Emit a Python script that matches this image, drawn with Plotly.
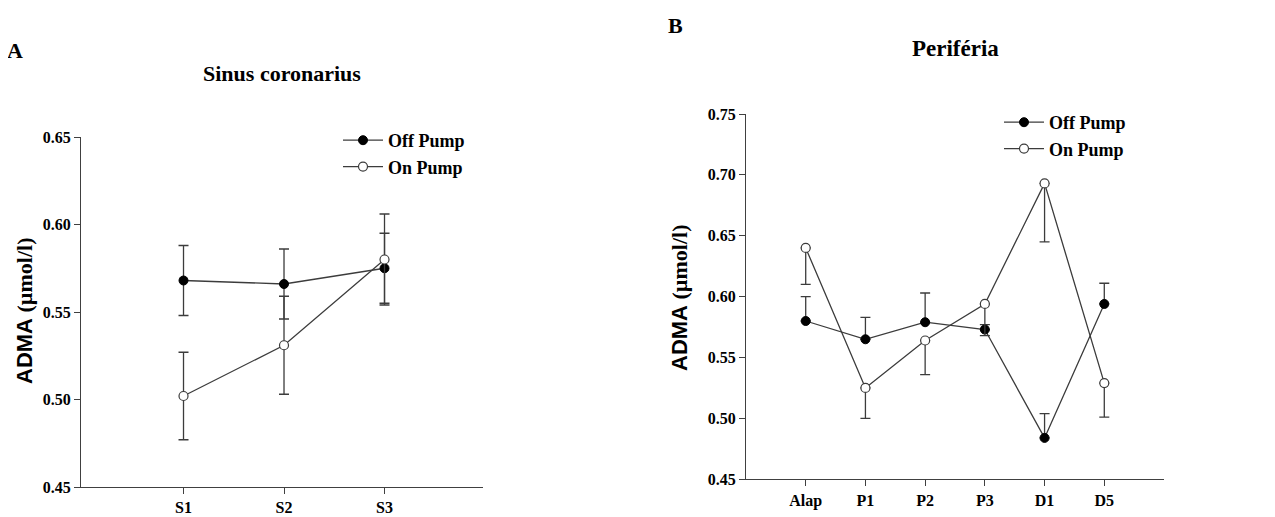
import plotly.graph_objects as go

# ---- data ----
sinus_cats = ["S1", "S2", "S3"]
sinus_off = [0.568, 0.566, 0.575]
sinus_off_err = [0.020, 0.020, 0.020]
sinus_on = [0.502, 0.531, 0.580]
sinus_on_err = [0.025, 0.028, 0.026]

peri_cats = ["Alap", "P1", "P2", "P3", "D1", "D5"]
peri_off = [0.580, 0.565, 0.579, 0.573, 0.484, 0.594]
peri_off_err_up = [0.020, 0.018, 0.024, 0.004, 0.020, 0.017]
peri_on = [0.640, 0.525, 0.564, 0.594, 0.693, 0.529]
peri_on_err_down = [0.030, 0.025, 0.028, 0.026, 0.048, 0.028]

left_ticks = [0.45, 0.50, 0.55, 0.60, 0.65]
right_ticks = [0.45, 0.50, 0.55, 0.60, 0.65, 0.70, 0.75]

# page body has an 8px margin, so the figure is sized to fit the window exactly
OFF = 8
W, H = 1275 - OFF, 517 - OFF
SERIF = "Liberation Serif"
LINE = "#3c3c3c"
AX = "#404040"

def px(x):
    return (x - OFF) / W

def py(y):
    return 1 - (y - OFF) / H

fig = go.Figure()

mk_off = dict(symbol="circle", size=9, color="black", line=dict(color="black", width=1))
mk_on = dict(symbol="circle", size=9, color="white", line=dict(color=LINE, width=1.2))
eb = dict(color=LINE, thickness=1.3, width=5)

fig.add_trace(go.Scatter(x=sinus_cats, y=sinus_off, mode="lines+markers", name="Off Pump",
                         line=dict(color=LINE, width=1.3), marker=mk_off,
                         error_y=dict(type="data", array=sinus_off_err, **eb),
                         xaxis="x", yaxis="y", legend="legend"))
fig.add_trace(go.Scatter(x=sinus_cats, y=sinus_on, mode="lines+markers", name="On Pump",
                         line=dict(color=LINE, width=1.3), marker=mk_on,
                         error_y=dict(type="data", array=sinus_on_err, **eb),
                         xaxis="x", yaxis="y", legend="legend"))

fig.add_trace(go.Scatter(x=peri_cats, y=peri_off, mode="lines+markers", name="Off Pump",
                         line=dict(color=LINE, width=1.3), marker=mk_off,
                         error_y=dict(type="data", symmetric=False, array=peri_off_err_up,
                                      arrayminus=[0] * len(peri_off), **eb),
                         xaxis="x2", yaxis="y2", legend="legend2"))
fig.add_trace(go.Scatter(x=peri_cats, y=peri_on, mode="lines+markers", name="On Pump",
                         line=dict(color=LINE, width=1.3), marker=mk_on,
                         error_y=dict(type="data", symmetric=False, array=[0] * len(peri_on),
                                      arrayminus=peri_on_err_down, **eb),
                         xaxis="x2", yaxis="y2", legend="legend2"))

tickfont = dict(family=SERIF, size=16, color="black", weight="bold")
xcommon = dict(type="category", showline=True, linecolor=AX, linewidth=1.3, ticks="outside",
               ticklen=6, tickcolor=AX, tickwidth=1.3, showgrid=False, zeroline=False,
               tickfont=tickfont, automargin=False)
ycommon = dict(showline=True, linecolor=AX, linewidth=1.3, ticks="outside", ticklen=6,
               tickcolor=AX, tickwidth=1.3, showgrid=False, zeroline=False,
               tickfont=tickfont, tickformat=".2f", automargin=False)

legfont = dict(family=SERIF, size=18, color="black", weight="bold")

fig.update_layout(
    template="none",
    width=W, height=H, autosize=False,
    margin=dict(l=0, r=0, t=0, b=0, pad=0),
    paper_bgcolor="white", plot_bgcolor="white",
    xaxis=dict(domain=[px(81), px(483)], range=[-1.02, 2.98], anchor="y", **xcommon),
    yaxis=dict(domain=[py(487), py(137)], range=[0.45, 0.65], anchor="x",
               tickvals=left_ticks, **ycommon),
    xaxis2=dict(domain=[px(746), px(1164)], range=[-1, 6], anchor="y2", **xcommon),
    yaxis2=dict(domain=[py(479.3), py(114)], range=[0.45, 0.75], anchor="x2",
                tickvals=right_ticks, **ycommon),
    legend=dict(x=px(338), y=py(122), xanchor="left", yanchor="top", itemwidth=40,
                font=legfont, bgcolor="rgba(0,0,0,0)", tracegroupgap=0),
    legend2=dict(x=px(999), y=py(104), xanchor="left", yanchor="top", itemwidth=40,
                 font=legfont, bgcolor="rgba(0,0,0,0)", tracegroupgap=0),
    showlegend=True,
)

ytitle = "<span style='font-family:Liberation Sans'>ADMA</span> (µmol/l)"
annos = [
    dict(text="A", x=px(15), y=py(51), font=dict(family=SERIF, size=22)),
    dict(text="B", x=px(675), y=py(25), font=dict(family=SERIF, size=22)),
    dict(text="Sinus coronarius", x=px(282), y=py(73), font=dict(family=SERIF, size=22)),
    dict(text="Periféria", x=px(955), y=py(48), font=dict(family=SERIF, size=23)),
    dict(text=ytitle, x=px(24), y=py(311), textangle=-90, font=dict(family=SERIF, size=22)),
    dict(text=ytitle, x=px(679), y=py(297), textangle=-90, font=dict(family=SERIF, size=22)),
]
for a in annos:
    a["text"] = "<b>" + a["text"] + "</b>"
    a["font"]["color"] = "black"
    fig.add_annotation(xref="paper", yref="paper", xanchor="center", yanchor="middle",
                       showarrow=False, **a)

fig.write_html("out.html")
